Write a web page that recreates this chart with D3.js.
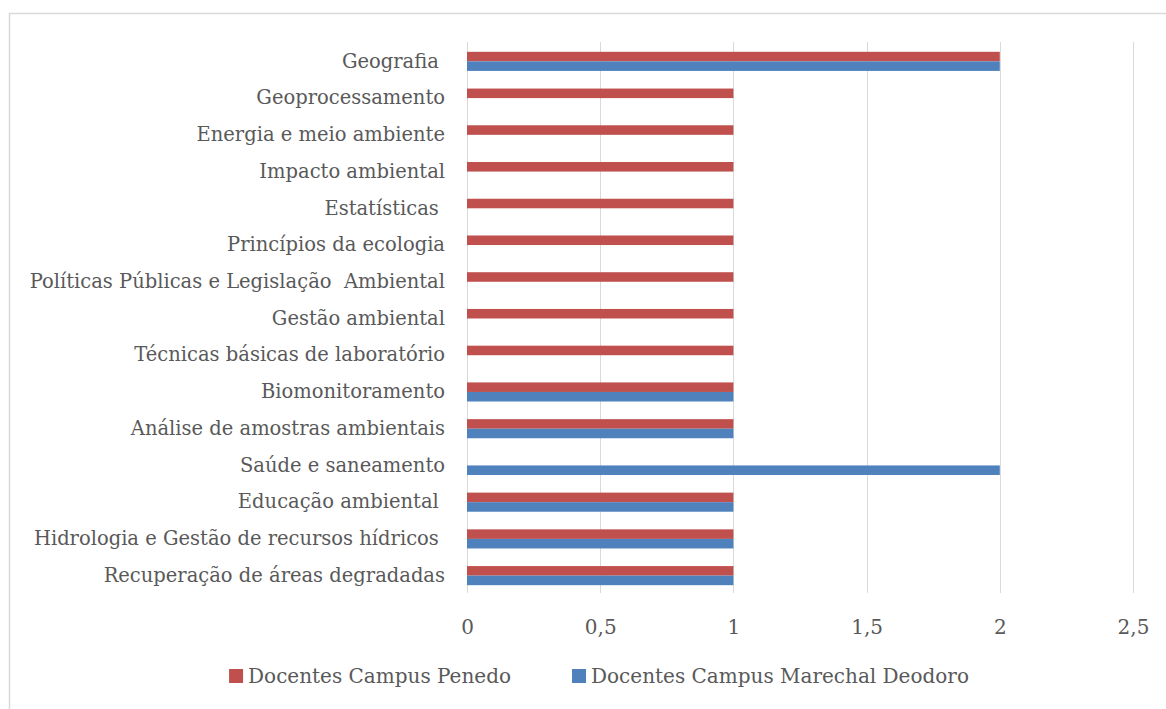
<!DOCTYPE html>
<html>
<head>
<meta charset="UTF-8">
<title>Disciplinas</title>
<script src="https://cdn.jsdelivr.net/npm/d3@7"></script>
<style>
  body { margin: 0; background: #fff; }
  text { font-family: "DejaVu Serif", serif; fill: #595959; white-space: pre; }
</style>
</head>
<body>
<svg width="1166" height="709"></svg>
<script>
  // categories, top to bottom
  var categories = [
    "Geografia ",
    "Geoprocessamento",
    "Energia e meio ambiente",
    "Impacto ambiental",
    "Estatísticas ",
    "Princípios da ecologia",
    "Políticas Públicas e Legislação  Ambiental",
    "Gestão ambiental",
    "Técnicas básicas de laboratório",
    "Biomonitoramento",
    "Análise de amostras ambientais",
    "Saúde e saneamento",
    "Educação ambiental ",
    "Hidrologia e Gestão de recursos hídricos ",
    "Recuperação de áreas degradadas"
  ];
  var series = ["Docentes Campus Penedo", "Docentes Campus Marechal Deodoro"];
  var penedo   = [2, 1, 1, 1, 1, 1, 1, 1, 1, 1, 1, 0, 1, 1, 1];
  var marechal = [2, 0, 0, 0, 0, 0, 0, 0, 0, 1, 1, 2, 1, 1, 1];
  var colors = ["#C0504D", "#4F81BD"];
  var xTicks = [0, 0.5, 1, 1.5, 2, 2.5];

  var svg = d3.select("svg");
  var width = +svg.attr("width");
  var height = +svg.attr("height");

  // chart frame
  svg.append("rect")
    .attr("x", 9.5).attr("y", 13.5)
    .attr("width", width).attr("height", height)
    .attr("fill", "none")
    .attr("stroke", "#d9d9d9")
    .attr("stroke-width", 1.5);

  var plot = {left: 467, right: 1133, top: 42, bottom: 593};

  var x = d3.scaleLinear().domain([0, 2.5]).range([plot.left, plot.right]);
  var y = d3.scaleBand().domain(categories).range([plot.top + 1, plot.bottom + 1])
    .paddingInner(0.48).paddingOuter(0.24);
  var yInner = d3.scaleBand().domain(series).range([0, y.bandwidth()]);

  var locale = d3.formatLocale({decimal: ",", thousands: ".", grouping: [3], currency: ["", ""]});
  var fmt = locale.format("~g");

  // gridlines
  svg.append("g")
    .selectAll("line")
    .data(xTicks)
    .enter()
    .append("line")
    .attr("x1", function(d){ return Math.round(x(d)) + 0.5; })
    .attr("x2", function(d){ return Math.round(x(d)) + 0.5; })
    .attr("y1", plot.top)
    .attr("y2", plot.bottom)
    .attr("stroke", "#d9d9d9")
    .attr("stroke-width", 1);

  // x axis labels
  var xAxis = svg.append("g")
    .attr("transform", "translate(0," + (plot.bottom + 27) + ")")
    .call(d3.axisBottom(x).tickValues(xTicks).tickFormat(fmt).tickSize(0).tickPadding(0));
  xAxis.select(".domain").remove();
  xAxis.selectAll("text")
    .attr("dy", "0.71em")
    .style("font-size", "20px")
    .style("font-family", "DejaVu Serif, serif")
    .attr("fill", "#595959");

  // y axis labels
  var yAxis = svg.append("g")
    .attr("transform", "translate(" + (plot.left - 22) + ",0)")
    .call(d3.axisLeft(y).tickSize(0).tickPadding(0));
  yAxis.select(".domain").remove();
  yAxis.selectAll("text")
    .style("font-size", "19.5px")
    .style("font-family", "DejaVu Serif, serif")
    .attr("fill", "#595959");

  // bars
  var rows = categories.map(function(c, i){
    return {cat: c, values: [penedo[i], marechal[i]]};
  });
  var groups = svg.append("g")
    .selectAll("g")
    .data(rows)
    .enter()
    .append("g")
    .attr("transform", function(d){ return "translate(0," + y(d.cat) + ")"; });
  groups.selectAll("rect")
    .data(function(d){ return d.values.map(function(v, j){ return {s: series[j], v: v, j: j}; }); })
    .enter()
    .append("rect")
    .attr("x", x(0))
    .attr("y", function(d){ return yInner(d.s); })
    .attr("width", function(d){ return x(d.v) - x(0); })
    .attr("height", yInner.bandwidth())
    .attr("fill", function(d){ return colors[d.j]; });

  // legend
  var legend = svg.append("g").attr("transform", "translate(0,676)");
  var items = legend.selectAll("g")
    .data(series)
    .enter()
    .append("g");
  items.append("rect")
    .attr("y", -7)
    .attr("width", 14).attr("height", 14)
    .attr("fill", function(d, i){ return colors[i]; });
  items.append("text")
    .attr("x", 19)
    .attr("dy", "0.35em")
    .style("font-size", "20px")
    .text(function(d){ return d; });
  var gap = 61, widths = [];
  items.each(function(){ widths.push(this.getBBox().width); });
  var total = d3.sum(widths) + gap * (widths.length - 1);
  var pos = 599 - total / 2;
  items.attr("transform", function(d, i){
    var p = pos;
    pos += widths[i] + gap;
    return "translate(" + p + ",0)";
  });
</script>
</body>
</html>
